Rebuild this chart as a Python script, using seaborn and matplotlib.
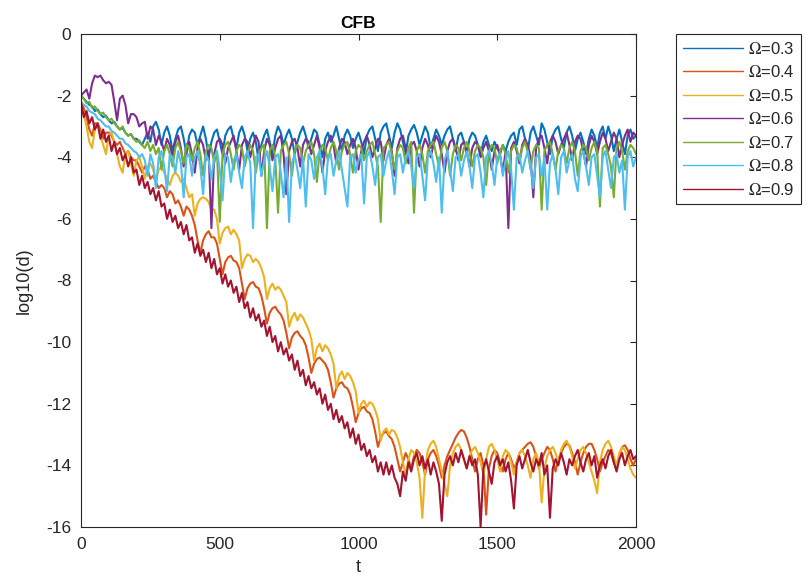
import numpy as np
import pandas as pd
import matplotlib
matplotlib.use("Agg")
import matplotlib.pyplot as plt
import seaborn as sns

# ---------------- data (t step = 10) ----------------
omega_labels = ["Ω=0.3", "Ω=0.4", "Ω=0.5", "Ω=0.6", "Ω=0.7", "Ω=0.8", "Ω=0.9"]
colors = ["#0072BD", "#D95319", "#EDB120", "#7E2F8E", "#77AC30", "#4DBEEE", "#A2142F"]

d_03 = [
    -2.0, -2.1, -2.2, -2.3, -2.35, -2.5, -2.45, -2.6, -2.7, -2.65,
    -2.8, -2.9, -2.85, -3.0, -3.1, -3.05, -3.2, -3.3, -3.25, -3.4,
    -3.4, -3.5, -3.6, -3.4, -3.2, -3.5, -3.0, -2.85, -3.1, -3.6,
    -3.2, -3.0, -3.3, -3.8, -3.4, -3.1, -3.0, -3.4, -3.9, -3.3,
    -3.1, -3.2, -3.6, -3.3, -3.0, -3.4, -4.0, -3.5, -3.2, -3.1,
    -3.5, -3.9, -3.3, -3.1, -3.0, -3.4, -3.7, -3.2, -3.0, -3.3,
    -3.8, -3.4, -3.2, -3.5, -4.1, -3.6, -3.3, -3.1, -3.5, -3.9,
    -3.3, -3.0, -3.2, -3.6, -3.3, -3.1, -3.4, -3.9, -3.5, -3.2,
    -3.0, -3.3, -3.7, -3.4, -3.1, -3.2, -3.6, -4.0, -3.4, -3.2,
    -3.5, -3.3, -3.0, -3.4, -3.8, -3.3, -3.1, -3.3, -3.7, -3.4,
    -3.2, -3.5, -3.9, -3.3, -3.1, -3.0, -3.4, -3.8, -3.2, -3.0,
    -2.9, -3.3, -3.7, -3.2, -2.9, -3.1, -3.5, -3.9, -3.3, -3.1,
    -2.95, -3.2, -3.6, -3.3, -3.0, -3.2, -3.7, -3.4, -3.1, -3.3,
    -3.6, -3.3, -3.1, -3.0, -3.4, -3.8, -3.3, -3.2, -3.5, -3.9,
    -3.4, -3.2, -3.3, -3.6, -3.9, -3.5, -3.3, -3.6, -3.8, -3.5,
    -3.7, -3.9, -3.6, -3.8, -3.5, -3.3, -3.2, -3.6, -3.1, -3.0,
    -3.4, -3.8, -3.2, -3.0, -3.3, -3.6, -2.9, -3.1, -3.5, -3.9,
    -3.3, -3.1, -3.0, -3.4, -3.7, -3.2, -3.0, -3.3, -3.8, -3.4,
    -3.2, -3.5, -3.9, -3.4, -3.1, -3.3, -3.7, -3.2, -3.0, -3.4,
    -3.0, -3.3, -3.8, -3.4, -3.1, -3.5, -3.9, -3.3, -3.1, -3.4,
    -3.3,
]

d_04 = [
    -2.2, -2.4, -2.7, -3.1, -3.3, -2.9, -2.9, -3.1, -3.4, -3.2,
    -3.2, -3.3, -3.5, -3.6, -3.5, -3.7, -3.9, -3.8, -4.0, -4.1,
    -4.1, -4.3, -4.5, -4.3, -4.4, -4.7, -4.6, -4.8, -5.0, -4.9,
    -5.0, -5.3, -5.1, -5.2, -5.5, -5.4, -5.6, -5.9, -5.6, -5.7,
    -5.9, -6.2, -6.7, -7.1, -6.7, -6.5, -6.4, -6.6, -6.6, -6.8,
    -7.3, -7.8, -7.4, -7.25, -7.2, -7.35, -7.4, -7.6, -8.1, -8.6,
    -8.25, -8.1, -8.05, -8.2, -8.25, -8.5, -8.9, -9.4, -9.05, -8.9,
    -8.85, -9.0, -9.1, -9.3, -9.7, -10.2, -9.85, -9.7, -9.65, -9.8,
    -9.9, -10.1, -10.5, -11.0, -10.7, -10.55, -10.5, -10.6, -10.7, -10.9,
    -11.3, -11.8, -11.5, -11.35, -11.3, -11.45, -11.5, -11.7, -12.1, -12.6,
    -12.3, -12.15, -12.1, -12.25, -12.3, -12.5, -12.9, -13.4, -13.1, -12.95,
    -12.9, -13.05, -13.15, -13.4, -13.8, -14.2, -13.9, -13.6, -13.8, -14.1,
    -13.7, -13.5, -13.6, -13.9, -14.3, -13.8, -13.6, -13.5, -13.7, -14.0,
    -14.4, -14.0, -13.7, -13.5, -13.3, -13.1, -12.95, -12.85, -12.9, -13.1,
    -13.4, -13.8, -14.2, -13.8, -13.6, -14.0, -15.6, -14.1, -13.7, -13.5,
    -13.6, -13.9, -14.2, -13.8, -13.6, -13.8, -14.1, -13.9, -13.6, -13.5,
    -13.4, -13.3, -13.25, -13.4, -13.7, -14.1, -13.8, -13.6, -13.4, -13.5,
    -13.8, -14.2, -13.8, -13.6, -13.4, -13.3, -13.35, -13.6, -13.9, -14.3,
    -13.9, -13.6, -13.4, -13.3, -13.3, -13.5, -13.8, -14.2, -13.9, -13.7,
    -13.5, -13.6, -13.9, -14.1, -13.7, -13.4, -13.35, -13.5, -13.8, -14.0,
    -13.8,
]

d_05 = [
    -2.3, -2.6, -3.0, -3.5, -3.7, -3.1, -2.9, -3.3, -3.6, -3.9,
    -3.3, -3.2, -3.5, -3.9, -4.3, -4.5, -3.9, -3.8, -4.2, -4.6,
    -4.1, -4.0, -4.3, -4.7, -4.3, -4.2, -4.4, -4.8, -4.4, -4.3,
    -4.5, -4.7, -4.9, -4.6, -4.5, -4.6, -4.8, -4.7, -5.0, -5.3,
    -5.2, -5.9, -5.5, -5.35, -5.3, -5.35, -5.45, -5.7, -5.7, -6.0,
    -6.8, -6.45, -6.3, -6.25, -6.5, -6.35, -6.5, -6.7, -7.6, -7.3,
    -7.15, -7.2, -7.4, -7.3, -7.4, -7.6, -7.9, -8.6, -8.25, -8.1,
    -8.3, -8.2, -8.3, -8.5, -8.7, -9.5, -9.2, -9.05, -9.3, -9.1,
    -9.2, -9.4, -9.6, -9.9, -10.6, -10.2, -10.05, -10.3, -10.1, -10.2,
    -10.4, -10.7, -11.5, -11.1, -10.95, -11.2, -11.0, -11.1, -11.3, -11.6,
    -12.3, -12.0, -11.9, -12.1, -11.95, -12.0, -12.2, -12.5, -13.2, -12.9,
    -12.8, -13.0, -12.85, -12.9, -13.1, -13.4, -13.9, -14.3, -13.8, -13.5,
    -13.6, -13.9, -14.4, -15.7, -14.1, -13.5, -13.3, -13.2, -13.4, -13.8,
    -14.2, -14.6, -15.0, -14.0, -13.6, -13.4, -13.3, -13.5, -13.8, -14.1,
    -13.7, -13.5, -13.4, -13.6, -13.9, -14.3, -13.8, -13.4, -13.3, -13.5,
    -13.8, -14.2, -13.7, -13.5, -13.6, -13.9, -14.3, -13.9, -13.6, -13.5,
    -13.7, -14.0, -14.4, -13.8, -13.6, -13.9, -15.2, -14.1, -13.7, -13.5,
    -13.4, -13.6, -13.9, -13.5, -13.3, -13.2, -13.4, -13.7, -14.1, -13.8,
    -13.5, -13.4, -13.6, -13.9, -14.2, -14.5, -14.9, -13.9, -13.5, -13.3,
    -13.2, -13.4, -13.7, -14.0, -13.6, -13.4, -13.5, -13.8, -14.1, -14.3,
    -14.4,
]

d_06 = [
    -2.0, -1.9, -1.8, -2.1, -1.6, -1.35, -1.4, -1.35, -1.5, -1.6,
    -1.55, -1.65, -2.2, -2.8, -2.1, -2.0, -2.3, -2.9, -2.6, -2.6,
    -2.7, -3.0, -2.9, -2.85, -3.4, -3.0, -3.1, -3.6, -3.3, -3.5,
    -3.8, -3.4, -3.6, -4.0, -3.5, -3.3, -3.7, -4.3, -3.6, -3.5,
    -3.9, -4.5, -3.7, -3.4, -3.6, -4.1, -3.8, -6.3, -3.9, -3.5,
    -3.4, -3.6, -4.2, -3.7, -3.5, -3.3, -3.8, -4.4, -3.6, -3.4,
    -3.5, -4.0, -3.6, -3.3, -3.5, -4.6, -3.8, -3.4, -3.6, -4.1,
    -3.7, -3.4, -3.3, -3.9, -5.2, -3.8, -3.5, -3.4, -3.7, -4.3,
    -3.6, -3.4, -3.5, -3.9, -3.6, -3.3, -3.7, -4.5, -3.8, -3.5,
    -3.3, -3.6, -4.2, -3.7, -3.4, -3.5, -3.9, -3.6, -3.4, -3.7,
    -4.4, -3.8, -3.5, -3.3, -3.6, -4.0, -3.7, -3.4, -3.5, -4.1,
    -3.6, -3.4, -3.8, -4.6, -3.7, -3.4, -3.3, -3.7, -4.2, -3.6,
    -3.5, -3.8, -4.3, -3.7, -3.4, -3.6, -4.0, -3.6, -3.3, -3.5,
    -3.9, -4.5, -3.8, -3.5, -3.4, -3.7, -4.1, -3.6, -3.5, -3.8,
    -4.3, -3.7, -3.5, -3.6, -4.0, -3.7, -3.5, -3.8, -4.4, -3.8,
    -3.6, -3.9, -4.5, -3.8, -6.3, -3.7, -3.5, -3.8, -4.2, -3.6,
    -3.4, -3.6, -4.0, -5.3, -3.7, -3.4, -3.3, -3.7, -4.2, -3.5,
    -3.3, -3.5, -3.9, -3.6, -3.4, -3.2, -3.6, -4.1, -3.5, -3.3,
    -3.4, -3.8, -4.3, -3.6, -3.3, -3.5, -3.9, -3.5, -3.2, -3.4,
    -3.8, -3.5, -3.2, -3.4, -4.0, -3.6, -3.3, -3.1, -3.5, -3.2,
    -3.3,
]

d_07 = [
    -2.0, -2.1, -2.25, -2.2, -2.4, -2.35, -2.5, -2.6, -2.55, -2.7,
    -2.8, -2.75, -2.9, -3.0, -3.1, -3.0, -3.2, -3.3, -3.25, -3.4,
    -3.5, -3.45, -3.6, -3.7, -3.5, -3.8, -3.6, -3.9, -3.7, -4.4,
    -3.8, -3.6, -3.9, -4.3, -3.7, -3.5, -3.8, -4.2, -3.6, -3.7,
    -4.1, -3.7, -3.5, -3.9, -4.6, -3.8, -3.6, -3.7, -4.2, -3.8,
    -6.1, -3.9, -3.6, -3.5, -3.9, -4.4, -3.8, -3.6, -3.7, -4.3,
    -3.9, -3.6, -3.8, -4.5, -3.9, -3.7, -3.6, -6.3, -3.8, -3.6,
    -4.0, -5.8, -3.8, -3.6, -3.5, -3.9, -4.6, -3.8, -3.6, -3.7,
    -4.2, -3.8, -3.6, -3.5, -3.9, -4.8, -3.8, -3.6, -3.7, -4.1,
    -3.7, -3.5, -3.8, -4.4, -3.8, -3.6, -3.5, -3.9, -4.5, -3.8,
    -3.6, -3.7, -4.1, -3.8, -3.6, -3.5, -3.9, -4.3, -6.1, -3.7,
    -3.6, -3.5, -3.9, -4.4, -3.8, -3.6, -3.7, -4.2, -3.7, -3.5,
    -5.8, -3.8, -3.6, -3.9, -4.5, -3.8, -3.6, -3.5, -3.9, -4.3,
    -3.7, -3.5, -3.8, -4.6, -3.9, -3.6, -3.7, -4.1, -3.7, -3.5,
    -3.8, -4.3, -3.8, -3.6, -3.7, -4.0, -4.9, -3.8, -3.6, -3.7,
    -4.2, -3.8, -3.6, -3.9, -4.5, -3.8, -3.6, -3.7, -4.1, -3.7,
    -3.5, -3.8, -4.4, -3.8, -3.6, -3.7, -5.7, -3.8, -3.6, -3.5,
    -3.9, -4.4, -3.8, -3.6, -3.7, -4.2, -3.7, -3.5, -3.8, -4.6,
    -3.8, -3.6, -3.7, -4.1, -3.7, -3.5, -3.8, -5.6, -3.7, -3.6,
    -3.9, -4.3, -5.3, -3.7, -3.5, -3.8, -4.4, -3.8, -3.6, -3.7,
    -3.9,
]

d_08 = [
    -2.2, -2.3, -2.35, -2.5, -2.55, -2.6, -2.75, -2.8, -2.9, -3.0,
    -3.0, -3.15, -3.2, -3.3, -3.4, -3.4, -3.55, -3.6, -3.7, -3.8,
    -3.85, -4.0, -3.9, -4.1, -4.6, -3.9, -4.2, -5.0, -4.0, -3.8,
    -4.3, -5.1, -3.9, -4.0, -4.5, -3.8, -4.2, -5.3, -4.0, -3.9,
    -4.6, -4.0, -3.8, -4.3, -5.2, -3.9, -4.1, -4.7, -4.0, -3.8,
    -4.4, -5.4, -3.9, -4.0, -4.8, -4.1, -3.9, -4.5, -5.0, -4.0,
    -3.8, -4.2, -6.3, -4.0, -3.9, -4.6, -4.1, -3.8, -4.3, -5.1,
    -4.0, -3.9, -4.5, -5.3, -4.0, -6.1, -4.2, -3.9, -4.4, -5.0,
    -4.0, -5.6, -3.9, -4.1, -4.7, -4.0, -3.8, -4.3, -5.2, -4.0,
    -3.9, -4.6, -4.1, -3.8, -4.4, -5.0, -5.6, -4.0, -3.9, -4.5,
    -4.1, -3.9, -5.5, -4.0, -3.8, -4.3, -4.9, -4.0, -3.9, -4.6,
    -4.1, -3.8, -4.4, -5.2, -4.0, -3.9, -4.5, -4.0, -3.8, -4.3,
    -5.0, -4.0, -3.9, -4.6, -5.4, -4.0, -3.8, -4.2, -4.8, -4.0,
    -5.8, -4.1, -3.8, -4.4, -5.1, -4.0, -3.9, -4.6, -4.1, -3.8,
    -4.3, -5.0, -4.0, -3.9, -4.5, -5.3, -4.0, -3.8, -4.2, -4.9,
    -4.0, -3.9, -4.6, -4.1, -3.8, -4.4, -5.7, -4.0, -3.9, -4.5,
    -4.1, -3.8, -4.3, -5.0, -4.0, -3.9, -4.6, -4.0, -5.7, -4.2,
    -3.9, -4.4, -5.2, -4.0, -3.8, -4.5, -4.1, -3.9, -4.7, -5.1,
    -4.0, -3.8, -4.3, -4.9, -4.0, -3.9, -4.6, -5.3, -4.0, -3.8,
    -4.4, -5.0, -4.0, -3.9, -4.5, -4.1, -5.7, -4.0, -3.8, -4.3,
    -4.0,
]

d_09 = [
    -2.2, -2.7, -2.5, -2.9, -2.7, -3.1, -2.9, -3.4, -3.1, -3.5,
    -3.3, -3.8, -3.5, -3.9, -3.7, -4.1, -3.9, -4.3, -4.0, -4.5,
    -4.4, -4.9, -4.6, -5.0, -4.8, -5.2, -5.0, -5.4, -5.1, -5.6,
    -5.5, -6.0, -5.7, -6.1, -5.9, -6.3, -6.1, -6.5, -6.2, -6.7,
    -6.6, -7.1, -6.8, -7.2, -7.0, -7.4, -7.1, -7.6, -7.3, -7.8,
    -7.6, -8.1, -7.8, -8.2, -8.0, -8.4, -8.2, -8.7, -8.4, -8.9,
    -8.7, -9.2, -8.9, -9.3, -9.1, -9.5, -9.3, -9.8, -9.5, -10.0,
    -9.8, -10.3, -10.0, -10.4, -10.2, -10.6, -10.4, -10.9, -10.6, -11.1,
    -10.9, -11.4, -11.1, -11.5, -11.3, -11.7, -11.5, -12.0, -11.7, -12.2,
    -12.0, -12.5, -12.2, -12.6, -12.4, -12.8, -12.6, -13.1, -12.8, -13.3,
    -13.0, -13.5, -13.3, -13.7, -13.5, -13.9, -13.7, -14.2, -13.9, -14.3,
    -13.9, -14.3, -14.0, -14.4, -14.6, -15.0, -14.2, -14.5, -13.9, -14.2,
    -13.8, -13.6, -14.0, -13.7, -14.1, -13.8, -14.3, -13.9, -14.2, -14.6,
    -15.8, -14.3, -13.9, -13.7, -14.0, -13.6, -13.9, -13.5, -13.8, -14.1,
    -13.7, -14.0, -13.8, -14.3, -16.0, -14.1, -13.8, -14.2, -14.6, -13.9,
    -13.7, -14.0, -13.8, -14.2, -13.9, -14.5, -15.4, -14.0, -13.7, -14.1,
    -13.8, -13.5, -13.9, -14.2, -13.8, -14.0, -13.6, -14.3, -14.0, -15.7,
    -14.1, -13.8, -14.0, -13.6, -13.9, -14.3, -13.8, -14.0, -13.7, -13.5,
    -13.9, -14.2, -13.8, -13.6, -14.0, -13.7, -14.4, -14.0, -13.8, -14.1,
    -13.7, -13.5, -13.9, -14.2, -13.8, -13.6, -14.0, -13.7, -13.5, -13.8,
    -13.7,
]

series = [d_03, d_04, d_05, d_06, d_07, d_08, d_09]
x_ticks = [0, 500, 1000, 1500, 2000]
y_ticks = [0, -2, -4, -6, -8, -10, -12, -14, -16]

# ---------------- build long-form table ----------------
frames = []
for lab, vals in zip(omega_labels, series):
    t = np.linspace(0, 2000, len(vals))
    frames.append(pd.DataFrame({"t": t, "log10(d)": vals, "Omega": lab}))
df = pd.concat(frames, ignore_index=True)

# ---------------- style ----------------
sns.set_theme(style="white")
plt.rcParams["font.family"] = ["Liberation Sans", "DejaVu Sans"]
plt.rcParams["axes.unicode_minus"] = False
plt.rcParams["mathtext.fontset"] = "stix"

fig = plt.figure(figsize=(8.07, 5.87), dpi=100)
ax = fig.add_axes([81 / 807, 60 / 587, 555 / 807, 493 / 587])

sns.lineplot(data=df, x="t", y="log10(d)", hue="Omega", hue_order=omega_labels,
             palette=colors, estimator=None, sort=False, linewidth=1.5, ax=ax)

ax.set_xlim(0, 2000)
ax.set_ylim(-16, 0)
ax.set_xticks(x_ticks)
ax.set_yticks(y_ticks)
ax.set_xticklabels([str(v) for v in x_ticks])
ax.set_yticklabels([str(v) for v in y_ticks])
ax.tick_params(direction="in", length=4, width=0.8, top=True, right=True,
               labelsize=12.5, colors="#262626", pad=7)
for sp in ax.spines.values():
    sp.set_color("#262626")
    sp.set_linewidth(0.8)

ax.set_xlabel("t", fontsize=13, color="#262626", labelpad=5)
ax.set_ylabel("log10(d)", fontsize=13, color="#262626", labelpad=10)
ax.set_title("CFB", fontsize=12.5, fontweight="bold", color="#000000", pad=4)

handles, labels = ax.get_legend_handles_labels()
leg_labels = [r"$\Omega$" + lab[1:] for lab in labels]
leg = ax.legend(handles, leg_labels, loc="upper left", bbox_to_anchor=(1.072, 1.0),
                frameon=True, fancybox=False, framealpha=1, edgecolor="#262626",
                fontsize=12, handlelength=3.6, labelspacing=0.45,
                handletextpad=0.3, borderpad=0.4, borderaxespad=0)
leg.get_frame().set_linewidth(0.8)
for h in leg.get_lines():
    h.set_linewidth(1.0)

fig.savefig("out.png", dpi=100)
